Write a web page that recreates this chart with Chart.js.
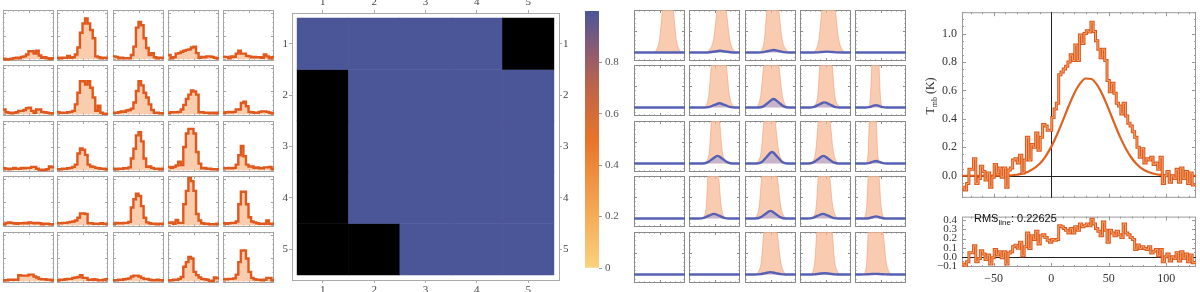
<!DOCTYPE html>
<html>
<head>
<meta charset="utf-8">
<script src="https://cdn.jsdelivr.net/npm/chart.js@4.4.1/dist/chart.umd.min.js"></script>
<style>
  body { margin: 0; background: #fff; width: 1200px; height: 292px; overflow: hidden; position: relative; }
  canvas { position: absolute; }
</style>
</head>
<body>
<script>
// ---- data: observed spectra grid (5x5, 20 channels each, peak-normalised) ----
const specRow1 = [
  [0.01,-0.01,0.0,0.01,0.02,0.03,0.02,0.05,0.06,0.1,0.17,0.17,0.12,0.18,0.08,0.03,0.04,0.02,0.0,0.02],
  [0.03,0.02,0.03,0.03,0.07,0.03,0.04,0.1,0.25,0.57,0.77,0.88,0.77,0.63,0.45,0.06,0.04,0.02,0.03,0.03],
  [0.06,0.05,0.02,0.03,0.02,0.02,0.02,0.09,0.27,0.68,0.8,0.73,0.45,0.24,0.09,0.13,0.04,0.02,0.03,0.03],
  [0.09,0.02,0.04,0.12,0.13,0.16,0.18,0.2,0.21,0.25,0.27,0.13,0.03,0.05,0.04,0.06,0.06,0.05,0.03,0.02],
  [0.05,0.05,0.02,0.06,0.05,0.12,0.18,0.12,0.12,0.07,0.06,0.04,0.05,0.04,0.04,0.03,0.1,0.06,0.02,0.04]
]
const specRow2 = [
  [0.1,0.04,0.03,0.02,0.03,0.04,0.07,0.07,0.09,0.13,0.14,0.07,0.03,0.1,0.1,0.05,0.04,0.03,0.02,0.02],
  [0.04,0.03,0.03,0.03,0.04,0.05,0.07,0.21,0.46,0.71,0.71,0.64,0.71,0.57,0.36,0.07,0.18,0.03,0.01,0.01],
  [0.03,0.03,0.04,0.06,0.05,0.08,0.09,0.12,0.25,0.5,0.71,0.62,0.46,0.36,0.21,0.09,0.03,0.03,0.02,0.02],
  [0.03,0.04,0.04,0.04,0.05,0.1,0.2,0.33,0.42,0.51,0.49,0.42,0.04,0.04,0.03,0.03,0.02,0.03,0.02,0.03],
  [0.03,0.04,0.05,0.04,0.05,0.1,0.1,0.24,0.27,0.17,0.05,0.04,0.03,0.03,0.05,0.06,0.06,0.05,0.03,0.02]
]
const specRow3 = [
  [0.04,0.03,0.02,0.03,0.05,0.03,0.03,0.05,0.04,0.05,0.05,0.07,0.07,0.03,0.01,0.0,0.01,0.02,0.08,0.06],
  [0.02,0.02,0.03,0.03,0.04,0.05,0.07,0.12,0.36,0.47,0.44,0.33,0.12,0.08,0.07,0.05,0.04,0.03,0.03,0.02],
  [0.03,0.02,0.03,0.03,0.04,0.04,0.06,0.25,0.46,0.75,0.82,0.62,0.25,0.07,0.08,0.05,0.03,0.03,0.02,0.03],
  [0.07,0.05,0.07,0.1,0.18,0.11,0.5,0.79,0.89,0.89,0.79,0.39,0.14,0.04,0.05,0.03,0.03,0.02,0.02,0.02],
  [0.04,0.04,0.05,0.04,0.05,0.12,0.32,0.52,0.3,0.12,0.08,0.08,0.05,0.06,0.04,0.04,0.06,0.06,0.07,0.03]
]
const specRow4 = [
  [0.02,0.05,0.06,0.05,0.04,0.03,0.04,0.04,0.05,0.04,0.06,0.05,0.04,0.05,0.04,0.02,0.03,0.03,0.02,0.02],
  [0.04,0.04,0.05,0.05,0.06,0.07,0.08,0.1,0.16,0.25,0.25,0.24,0.04,0.04,0.03,0.03,0.03,0.04,0.03,0.03],
  [0.03,0.05,0.04,0.04,0.05,0.05,0.07,0.38,0.56,0.68,0.63,0.41,0.16,0.06,0.04,0.03,0.03,0.02,0.03,0.03],
  [0.05,0.06,0.03,0.11,0.05,0.05,0.45,0.74,1.02,0.95,0.74,0.24,0.1,0.04,0.03,0.03,0.02,0.02,0.02,0.03],
  [0.04,0.03,0.04,0.05,0.05,0.08,0.45,0.72,0.72,0.45,0.17,0.08,0.06,0.04,0.03,0.03,0.03,0.1,0.03,0.03]
]
const specRow5 = [
  [0.02,0.02,0.03,0.03,0.03,0.03,0.13,0.12,0.12,0.12,0.14,0.14,0.1,0.08,0.05,0.04,0.04,0.03,0.03,0.02],
  [0.02,0.03,0.03,0.04,0.05,0.05,0.07,0.08,0.09,0.13,0.07,0.07,0.03,0.03,0.04,0.03,0.02,0.02,0.03,0.04],
  [0.02,0.02,0.03,0.03,0.04,0.05,0.06,0.1,0.12,0.12,0.1,0.07,0.05,0.05,0.03,0.02,0.02,0.03,0.02,0.02],
  [0.02,0.02,0.03,0.03,0.05,0.09,0.31,0.41,0.52,0.49,0.2,0.13,0.08,0.05,0.04,0.03,0.01,0.0,0.08,0.06],
  [0.04,0.04,0.05,0.05,0.06,0.14,0.41,0.66,0.66,0.49,0.2,0.07,0.04,0.03,0.03,0.02,0.03,0.07,0.07,0.02]
]
const specRows = [specRow1, specRow2, specRow3, specRow4, specRow5]

// ---- data: detection map ----
const mapCols = [1, 2, 3, 4, 5]
const mapRows = [1, 2, 3, 4, 5]
const mapValues = [
  [1, 1, 1, 1, null],
  [null, 1, 1, 1, 1],
  [null, 1, 1, 1, 1],
  [null, 1, 1, 1, 1],
  [null, null, 1, 1, 1]
]
const colorbarTicks = [0, 0.2, 0.4, 0.6, 0.8]
const colorbarStops = [[0, '#FAD27E'], [0.25, '#F3A350'], [0.5, '#E8742B'], [0.7, '#BF6548'], [0.85, '#8C5B73'], [1, '#4B5699']]

// ---- data: fit components grid (x in cell fraction) ----
const peakProfileY = [0, 0.06, 0.3, 1.0, 1.8, 1.0, 0.3, 0.06, 0]
const peakX = [
  [0.38,0.44,0.5,0.56,0.665,0.77,0.83,0.89,0.95], [0.32,0.4,0.48,0.55,0.64,0.73,0.8,0.87,0.94],
  [0.27,0.33,0.38,0.43,0.545,0.66,0.73,0.81,0.88], [0.25,0.31,0.37,0.43,0.56,0.69,0.76,0.83,0.89], null,
  null, [0.29,0.34,0.39,0.44,0.585,0.73,0.79,0.85,0.91],
  [0.2,0.26,0.31,0.37,0.515,0.66,0.73,0.79,0.86], [0.25,0.3,0.35,0.39,0.51,0.63,0.68,0.74,0.79],
  [0.26,0.285,0.305,0.33,0.4,0.47,0.495,0.52,0.55],
  null, [0.3,0.35,0.4,0.44,0.52,0.6,0.65,0.71,0.76],
  [0.2,0.26,0.32,0.37,0.48,0.59,0.66,0.73,0.79], [0.2,0.26,0.31,0.36,0.475,0.59,0.65,0.71,0.76],
  [0.22,0.24,0.26,0.28,0.35,0.42,0.44,0.47,0.5],
  null, [0.26,0.3,0.34,0.37,0.475,0.58,0.63,0.68,0.73],
  [0.17,0.23,0.28,0.33,0.48,0.63,0.7,0.76,0.82], [0.23,0.28,0.32,0.36,0.47,0.58,0.64,0.7,0.76],
  [0.17,0.2,0.23,0.26,0.365,0.47,0.51,0.55,0.59],
  null, null,
  [0.2,0.26,0.32,0.37,0.5,0.63,0.7,0.76,0.82], [0.2,0.25,0.29,0.33,0.48,0.63,0.68,0.74,0.79],
  [0.16,0.2,0.23,0.26,0.405,0.55,0.61,0.67,0.72]
]
const compPoints = [
  [[0,0],[1,0]],
  [[0,0],[0.31,0],[0.41,0.006],[0.51,0.024],[0.61,0.04],[0.71,0.024],[0.81,0.006],[0.91,0],[1,0]],
  [[0,0],[0.26,0],[0.36,0.008],[0.46,0.036],[0.56,0.06],[0.66,0.036],[0.76,0.008],[0.86,0],[1,0]],
  [[0,0],[0.23,0],[0.33,0.003],[0.43,0.012],[0.53,0.02],[0.63,0.012],[0.73,0.003],[0.83,0],[1,0]],
  [[0,0],[1,0]],
  [[0,0],[1,0]],
  [[0,0],[0.3,0],[0.4,0.014],[0.5,0.06],[0.6,0.1],[0.7,0.06],[0.8,0.014],[0.9,0],[1,0]],
  [[0,0],[0.26,0],[0.36,0.028],[0.46,0.12],[0.56,0.2],[0.66,0.12],[0.76,0.028],[0.86,0],[1,0]],
  [[0,0],[0.18,0],[0.28,0.017],[0.38,0.072],[0.48,0.12],[0.58,0.072],[0.68,0.017],[0.78,0],[1,0]],
  [[0,0],[0.2,0],[0.27,0.008],[0.34,0.033],[0.41,0.055],[0.48,0.033],[0.55,0.008],[0.62,0],[1,0]],
  [[0,0],[1,0]],
  [[0,0],[0.26,0],[0.36,0.025],[0.46,0.108],[0.56,0.18],[0.66,0.108],[0.76,0.025],[0.86,0],[1,0]],
  [[0,0],[0.23,0],[0.33,0.038],[0.43,0.162],[0.53,0.27],[0.63,0.162],[0.73,0.038],[0.83,0],[1,0]],
  [[0,0],[0.16,0],[0.26,0.025],[0.36,0.108],[0.46,0.18],[0.56,0.108],[0.66,0.025],[0.76,0],[1,0]],
  [[0,0],[0.2,0],[0.27,0.008],[0.34,0.036],[0.41,0.06],[0.48,0.036],[0.55,0.008],[0.62,0],[1,0]],
  [[0,0],[1,0]],
  [[0,0],[0.19,0],[0.29,0.015],[0.39,0.066],[0.49,0.11],[0.59,0.066],[0.69,0.015],[0.79,0],[1,0]],
  [[0,0],[0.2,0],[0.3,0.025],[0.4,0.108],[0.5,0.18],[0.6,0.108],[0.7,0.025],[0.8,0],[1,0]],
  [[0,0],[0.15,0],[0.25,0.015],[0.35,0.066],[0.45,0.11],[0.55,0.066],[0.65,0.015],[0.75,0],[1,0]],
  [[0,0],[0.2,0],[0.27,0.007],[0.34,0.03],[0.41,0.05],[0.48,0.03],[0.55,0.007],[0.62,0],[1,0]],
  [[0,0],[1,0]],
  [[0,0],[1,0]],
  [[0,0],[0.2,0],[0.3,0.008],[0.4,0.033],[0.5,0.055],[0.6,0.033],[0.7,0.008],[0.8,0],[1,0]],
  [[0,0],[0.18,0],[0.28,0.004],[0.38,0.018],[0.48,0.03],[0.58,0.018],[0.68,0.004],[0.78,0],[1,0]],
  [[0,0],[0.1,0],[0.2,0.002],[0.3,0.009],[0.4,0.015],[0.5,0.009],[0.6,0.002],[0.7,0],[1,0]]
]

// ---- data: averaged spectrum, fit and residual (2 km/s channels) ----
const velStart = -77.5
const chanWidth = 2
const tmb = [
  -0.08,-0.10,-0.055,0.045,0.045,0.12,-0.055,-0.02,0.067,0.03,
  -0.03,0.02,-0.08,-0.01,0.08,0.02,0.055,-0.01,0.055,-0.08,
  0.04,0.055,0.11,0.12,0.09,0.145,0.02,0.11,0.27,0.11,
  0.22,0.20,0.30,0.18,0.27,0.36,0.35,0.32,0.32,0.41,
  0.47,0.51,0.71,0.73,0.75,0.77,0.80,0.85,0.81,0.92,
  0.81,0.99,0.93,1.00,1.02,1.01,1.08,1.015,0.95,0.89,
  0.83,0.89,0.81,0.67,0.59,0.65,0.58,0.51,0.49,0.435,
  0.51,0.42,0.37,0.35,0.31,0.27,0.20,0.13,0.19,0.09,
  0.12,0.11,0.13,0.08,0.09,0.045,0.13,-0.055,0.0,0.03,
  -0.045,0.0,-0.02,0.045,-0.045,0.055,-0.02,0.03,-0.055,0.02,
  -0.065,-0.065
]
const residual = [
  -0.08,-0.10,-0.055,0.045,0.045,0.12,-0.055,-0.02,0.067,0.03,
  -0.03,0.02,-0.08,-0.01,0.08,0.02,0.055,-0.01,0.055,-0.08,
  0.04,0.055,0.11,0.127,0.093,0.16,0.01,0.11,0.26,0.09,
  0.23,0.19,0.28,0.14,0.23,0.24,0.21,0.18,0.16,0.19,
  0.18,0.19,0.34,0.33,0.31,0.29,0.26,0.31,0.26,0.33,
  0.29,0.36,0.33,0.34,0.36,0.34,0.41,0.36,0.31,0.28,
  0.23,0.38,0.29,0.16,0.29,0.26,0.23,0.28,0.24,0.21,
  0.36,0.26,0.24,0.21,0.19,0.08,0.13,0.09,0.11,0.09,
  0.08,0.11,0.04,0.06,0.08,0.01,0.08,-0.055,0.0,0.03,
  -0.045,0.0,-0.02,0.045,-0.045,0.055,-0.02,0.03,-0.055,0.02,
  -0.065,-0.065
]
const fitVel = [-77.5,-40,-30,-20,-10,-5,0,5,10,15,20,25,30,35,40,45,50,55,60,65,70,75,80,85,90,95,100,110,125.8]
const fitTmb = [0,0.0014,0.007,0.0275,0.084,0.135,0.203,0.288,0.386,0.487,0.579,0.648,0.684,0.680,0.637,0.562,0.467,0.366,0.270,0.188,0.123,0.076,0.044,0.024,0.0125,0.006,0.0028,0.0005,0]
const velTicks = [-50, 0, 50, 100]
const tmbTicks = [0, 0.2, 0.4, 0.6, 0.8, 1.0]
const resTicks = [-0.1, 0, 0.1, 0.2, 0.3, 0.4]
const rmsLine = '0.22625'

// ---- layout ----
const gridTops = [10, 65, 121, 176, 232]
const specLefts = [3, 57, 113, 168, 223]
const fitLefts = [634, 689, 745, 800, 855]
const CELL = 51

const HIST_LINE = '#E0581C'
const HIST_FILL = 'rgba(248,188,148,0.75)'
const BLUE_LINE = '#5660B4'
const BLUE_FILL = 'rgba(140,150,232,0.45)'
const PEAK_FILL = 'rgba(247,184,148,0.72)'
const PEAK_EDGE = 'rgba(236,150,110,0.55)'

Chart.defaults.font.family = "'Liberation Serif', serif"
Chart.defaults.animation = false

const makeCanvas = (left, top, w, h) => {
  const c = document.createElement('canvas')
  c.width = w
  c.height = h
  c.style.left = left + 'px'
  c.style.top = top + 'px'
  c.style.width = w + 'px'
  c.style.height = h + 'px'
  document.body.appendChild(c)
  return c.getContext('2d')
}

// frame with inward ticks, like the original frames
const frameTicks = {
  id: 'frameTicks',
  beforeDatasetsDraw(chart, args, o) {
    const {ctx, chartArea: a} = chart
    const sx = chart.scales.x, sy = chart.scales.y
    ctx.save()
    ctx.strokeStyle = o.color
    ctx.lineWidth = 1
    const run = (scale, step, len, horiz) => {
      if (!step) return
      const first = Math.ceil(scale.min / step - 1e-6)
      const last = Math.floor(scale.max / step + 1e-6)
      ctx.beginPath()
      for (let k = first; k <= last; k++) {
        const p = Math.round(scale.getPixelForValue(k * step)) + 0.5
        if (horiz) {
          ctx.moveTo(p, a.top); ctx.lineTo(p, a.top + len)
          ctx.moveTo(p, a.bottom); ctx.lineTo(p, a.bottom - len)
        } else {
          ctx.moveTo(a.left, p); ctx.lineTo(a.left + len, p)
          ctx.moveTo(a.right, p); ctx.lineTo(a.right - len, p)
        }
      }
      ctx.stroke()
    }
    run(sx, o.xMinor, o.minorLen, true)
    run(sx, o.xMajor, o.majorLen, true)
    run(sy, o.yMinor, o.minorLen, false)
    run(sy, o.yMajor, o.majorLen, false)
    ctx.strokeRect(a.left + 0.5, a.top + 0.5, a.width - 1, a.height - 1)
    ctx.restore()
  }
}

// thin black axes through the origin
const originAxes = {
  id: 'originAxes',
  beforeDatasetsDraw(chart, args, o) {
    const {ctx, chartArea: a} = chart
    ctx.save()
    ctx.strokeStyle = '#222'
    ctx.lineWidth = 1
    ctx.beginPath()
    const py = Math.round(chart.scales.y.getPixelForValue(0)) + 0.5
    ctx.moveTo(a.left, py); ctx.lineTo(a.right, py)
    if (o.vertical) {
      const px = Math.round(chart.scales.x.getPixelForValue(0)) + 0.5
      ctx.moveTo(px, a.top); ctx.lineTo(px, a.bottom)
    }
    ctx.stroke()
    ctx.restore()
  }
}

// text with a subscript part: [main, sub, rest]
const subText = {
  id: 'subText',
  afterDraw(chart, args, o) {
    const ctx = chart.ctx
    ctx.save()
    ctx.translate(o.x, o.y)
    if (o.rotate) ctx.rotate(-Math.PI / 2)
    ctx.fillStyle = o.color
    ctx.textBaseline = 'alphabetic'
    const big = o.size + 'px ' + o.family
    const small = Math.round(o.size * 0.7) + 'px ' + o.family
    ctx.font = big
    const w1 = ctx.measureText(o.parts[0]).width
    const w3 = ctx.measureText(o.parts[2]).width
    ctx.font = small
    const w2 = ctx.measureText(o.parts[1]).width
    let x = o.center ? -(w1 + w2 + w3) / 2 : 0
    ctx.font = big
    ctx.fillText(o.parts[0], x, 0)
    x += w1
    ctx.font = small
    ctx.fillText(o.parts[1], x, o.size * 0.28)
    x += w2
    ctx.font = big
    ctx.fillText(o.parts[2], x, 0)
    ctx.restore()
  }
}

const quietPlugins = extra => Object.assign({legend: {display: false}, tooltip: {enabled: false}}, extra)

// ---- panel 1: observed spectra ----
const miniSpectrum = (ctx, values) => {
  const pts = values.map((v, i) => ({x: i, y: v}))
  pts.push({x: values.length, y: values[values.length - 1]})
  new Chart(ctx, {
    type: 'line',
    data: {datasets: [{
      data: pts, stepped: true, borderColor: HIST_LINE, borderWidth: 2.4,
      backgroundColor: HIST_FILL, fill: 'origin', pointRadius: 0, clip: 0
    }]},
    options: {
      responsive: false, events: [], layout: {padding: 0},
      scales: {
        x: {type: 'linear', display: false, min: 0, max: values.length},
        y: {display: false, min: -0.04, max: 1.06}
      },
      plugins: quietPlugins({frameTicks: {color: '#a4a4a4', xMinor: 2, xMajor: 10, yMinor: 0.1, yMajor: 0.5, minorLen: 1.5, majorLen: 3}})
    },
    plugins: [frameTicks]
  })
}

specRows.forEach((row, r) => {
  row.forEach((values, c) => {
    miniSpectrum(makeCanvas(specLefts[c], gridTops[r], CELL, CELL), values)
  })
})

// ---- panel 3: fit components ----
const miniFit = (ctx, px, comp) => {
  const datasets = [{
    data: comp.map(p => ({x: p[0], y: p[1]})), borderColor: BLUE_LINE, borderWidth: 2.4,
    backgroundColor: BLUE_FILL, fill: 'origin', cubicInterpolationMode: 'monotone',
    pointRadius: 0, clip: 0, order: 0
  }]
  if (px) {
    const pts = [{x: 0, y: 0}].concat(px.map((x, i) => ({x, y: peakProfileY[i]})), [{x: 1, y: 0}])
    datasets.push({
      data: pts, borderColor: PEAK_EDGE, borderWidth: 1, backgroundColor: PEAK_FILL,
      fill: 'origin', cubicInterpolationMode: 'monotone', pointRadius: 0, clip: 0, order: 1
    })
  }
  new Chart(ctx, {
    type: 'line',
    data: {datasets},
    options: {
      responsive: false, events: [], layout: {padding: 0},
      scales: {
        x: {type: 'linear', display: false, min: 0, max: 1},
        y: {display: false, min: -0.2, max: 1.0}
      },
      plugins: quietPlugins({frameTicks: {color: '#8a8a8a', xMinor: 0.1, xMajor: 0.5, yMinor: 0.1, yMajor: 0.5, minorLen: 1.5, majorLen: 3}})
    },
    plugins: [frameTicks]
  })
}

mapRows.forEach((rowNo, r) => {
  mapCols.forEach((colNo, c) => {
    const k = r * mapCols.length + c
    miniFit(makeCanvas(fitLefts[c], gridTops[r], CELL, CELL), peakX[k], compPoints[k])
  })
})

// ---- panel 2: detection map + colour bar ----
const hexToRgb = h => [1, 3, 5].map(i => parseInt(h.substr(i, 2), 16))
const colorFor = v => {
  for (let i = 1; i < colorbarStops.length; i++) {
    const [v0, c0] = colorbarStops[i - 1], [v1, c1] = colorbarStops[i]
    if (v <= v1) {
      const t = (v - v0) / (v1 - v0), a = hexToRgb(c0), b = hexToRgb(c1)
      return `rgb(${a.map((x, j) => Math.round(x + (b[j] - x) * t)).join(',')})`
    }
  }
  return colorbarStops[colorbarStops.length - 1][1]
}

const mapTickOpts = () => ({font: {size: 11}, color: '#444', padding: 1, autoSkip: false})
const mapGrid = () => ({drawOnChartArea: false, drawTicks: true, tickLength: 3, color: '#aaa', offset: false})
const setTicks = list => scale => { scale.ticks = list.map(v => ({value: v})) }
const mapAxis = (axis, position, list, fit) => ({
  type: 'linear', axis, position, min: 0.4, max: 5.6, offset: false, reverse: axis === 'y',
  afterBuildTicks: setTicks(list), afterFit: fit,
  grid: mapGrid(), border: {color: '#aaa'}, ticks: mapTickOpts()
})

new Chart(makeCanvas(270, 0, 310, 292), {
  type: 'bar',
  data: {
    datasets: mapValues.map((row, r) => ({
      data: row.map((v, c) => ({x: mapCols[c], y: [mapRows[r] - 0.5, mapRows[r] + 0.5]})),
      backgroundColor: row.map(v => v == null ? '#000000' : colorFor(v)),
      borderWidth: 0, barPercentage: 1, categoryPercentage: 1, grouped: false
    }))
  },
  options: {
    responsive: false, events: [],
    scales: {
      x: mapAxis('x', 'bottom', mapCols, s => { s.height = 12 }),
      x2: mapAxis('x', 'top', mapCols, s => { s.height = 13 }),
      y: mapAxis('y', 'left', mapRows, s => { s.width = 22 }),
      y2: mapAxis('y', 'right', mapRows, s => { s.width = 21 })
    },
    plugins: quietPlugins({})
  }
})

new Chart(makeCanvas(580, 0, 50, 292), {
  type: 'bar',
  data: {
    labels: [''],
    datasets: [{
      data: [[0, 1]], borderWidth: 0, barPercentage: 1, categoryPercentage: 1,
      backgroundColor: c => {
        const a = c.chart.chartArea
        if (!a) return colorbarStops[0][1]
        const g = c.chart.ctx.createLinearGradient(0, a.bottom, 0, a.top)
        colorbarStops.forEach(([v, col]) => g.addColorStop(v, col))
        return g
      }
    }]
  },
  options: {
    responsive: false, events: [],
    layout: {padding: {left: 5, top: 11, bottom: 24}},
    scales: {
      x: {display: false},
      y: {position: 'right', min: 0, max: 1, afterBuildTicks: setTicks(colorbarTicks),
        afterFit: s => { s.width = 31 },
        grid: {drawOnChartArea: false, tickLength: 3, color: '#999'}, border: {display: false},
        ticks: {font: {size: 11}, color: '#555', padding: 3, autoSkip: false, callback: v => v === 0 ? '0' : v.toFixed(1)}}
    },
    plugins: quietPlugins({})
  }
})

// ---- panel 4: averaged spectrum with fit, and residual ----
const stepPoints = values => {
  const pts = values.map((v, i) => ({x: velStart + i * chanWidth, y: v}))
  pts.push({x: velStart + values.length * chanWidth, y: values[values.length - 1]})
  return pts
}
const stepSets = values => [
  {data: stepPoints(values), stepped: true, borderColor: '#F7A46F', borderWidth: 1.0, pointRadius: 0, clip: 0, order: 0},
  {data: stepPoints(values), stepped: true, borderColor: '#DB5A1E', borderWidth: 3.0, pointRadius: 0, clip: 0, order: 1}
]
const signed = (v, digits) => (v < 0 ? '\u2212' : '') + Math.abs(v).toFixed(digits)

new Chart(makeCanvas(920, 0, 280, 210), {
  type: 'line',
  data: {
    datasets: stepSets(tmb).concat([{
      data: fitVel.map((x, i) => ({x, y: fitTmb[i]})), borderColor: '#E0621F', borderWidth: 2.2,
      cubicInterpolationMode: 'monotone', pointRadius: 0, clip: 0, order: 2
    }])
  },
  options: {
    responsive: false, events: [],
    layout: {padding: {top: 5, right: 4}},
    scales: {
      x: {type: 'linear', min: -77.5, max: 125.8, afterFit: s => { s.height = 10 },
        ticks: {display: false}, grid: {display: false, drawTicks: false}, border: {display: false}},
      y: {min: -0.155, max: 1.15, afterBuildTicks: setTicks(tmbTicks), afterFit: s => { s.width = 42 },
        grid: {display: false, drawTicks: false}, border: {display: false},
        ticks: {font: {size: 12}, color: '#333', padding: 5, autoSkip: false, callback: v => v.toFixed(1)}}
    },
    plugins: quietPlugins({
      frameTicks: {color: '#999', xMinor: 10, xMajor: 50, yMinor: 0.05, yMajor: 0.2, minorLen: 2, majorLen: 4},
      originAxes: {vertical: true},
      subText: {x: 14, y: 96, rotate: true, center: true, size: 12, family: "'Liberation Serif', serif", color: '#333', parts: ['T', 'mb', ' (K)']}
    })
  },
  plugins: [frameTicks, originAxes, subText]
})

new Chart(makeCanvas(920, 205, 280, 87), {
  type: 'line',
  data: {datasets: stepSets(residual)},
  options: {
    responsive: false, events: [],
    layout: {padding: {top: 7, right: 4}},
    scales: {
      x: {type: 'linear', min: -77.5, max: 125.8, afterBuildTicks: setTicks(velTicks), afterFit: s => { s.height = 25 },
        grid: {display: false, drawTicks: false}, border: {display: false},
        ticks: {font: {size: 12}, color: '#333', padding: 5, autoSkip: false, maxRotation: 0, callback: v => signed(v, 0)}},
      y: {min: -0.112, max: 0.44, afterBuildTicks: setTicks(resTicks), afterFit: s => { s.width = 42 },
        grid: {display: false, drawTicks: false}, border: {display: false},
        ticks: {font: {size: 11}, color: '#333', padding: 5, autoSkip: false, callback: v => signed(v, 1)}}
    },
    plugins: quietPlugins({
      frameTicks: {color: '#999', xMinor: 10, xMajor: 50, yMinor: 0.05, yMajor: 0.1, minorLen: 2, majorLen: 4},
      originAxes: {vertical: false},
      subText: {x: 54, y: 17, rotate: false, center: false, size: 11, family: "'Liberation Sans', sans-serif", color: '#111', parts: ['RMS', 'line', ': ' + rmsLine]}
    })
  },
  plugins: [frameTicks, originAxes, subText]
})
</script>
</body>
</html>
